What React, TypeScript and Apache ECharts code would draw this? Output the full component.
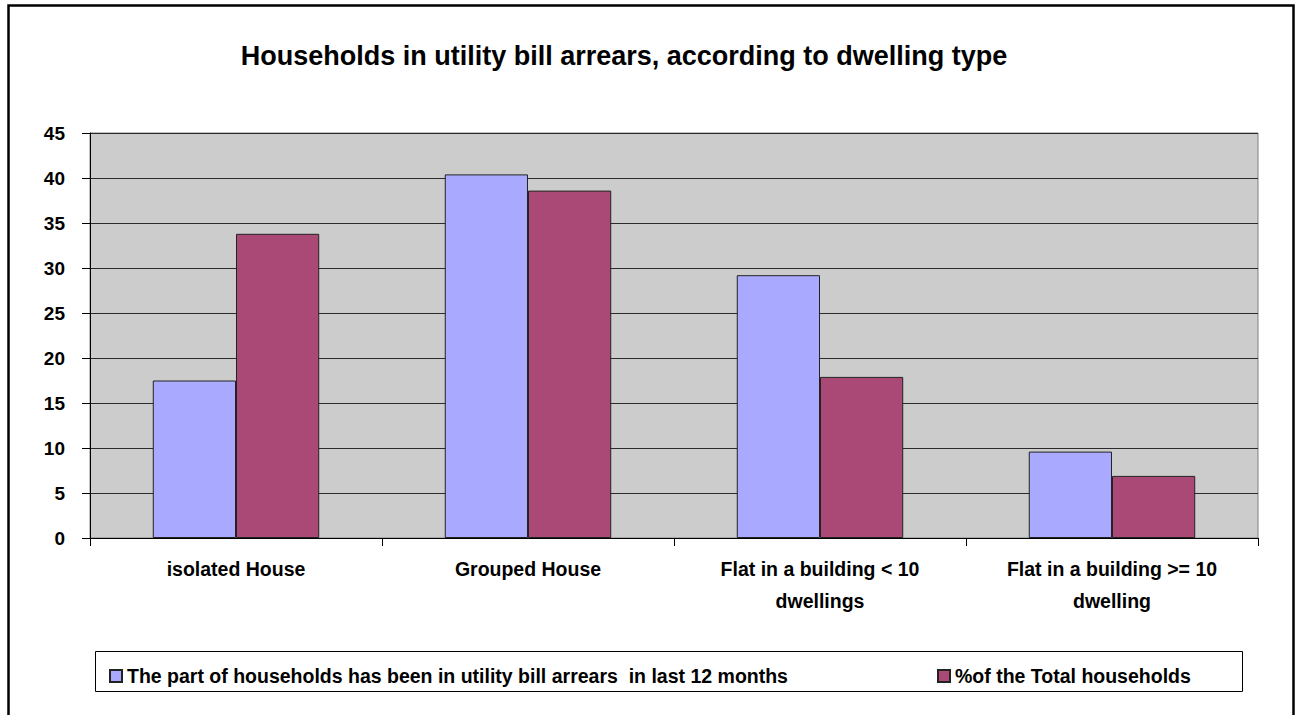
import React, { useEffect, useRef } from "react";
import * as echarts from "echarts";

const categories = [
  "isolated House",
  "Grouped House",
  "Flat in a building < 10\ndwellings",
  "Flat in a building >= 10\ndwelling",
];
const seriesNames = [
  "The part of households has been in utility bill arrears  in last 12 months",
  "%of the Total households",
];
const arrearsValues = [17.5, 40.4, 29.2, 9.6];
const totalValues = [33.8, 38.6, 17.9, 6.9];
const yTicks = { min: 0, max: 45, interval: 5 };

const FONT = "'Liberation Sans', Arial, sans-serif";

export default function App() {
  const ref = useRef<HTMLDivElement>(null);
  useEffect(() => {
    if (!ref.current) return;
    const chart = echarts.init(ref.current, undefined, { renderer: "svg" });
    const legendText = { fontSize: 19.5, fontWeight: "bold", color: "#000", fontFamily: FONT };
    chart.setOption({
      animation: false,
      backgroundColor: "#ffffff",
      textStyle: { fontFamily: FONT },
      title: {
        text: "Households in utility bill arrears, according to dwelling type",
        left: 619,
        textAlign: "center",
        top: 37,
        textStyle: { fontSize: 27, fontWeight: "bold", color: "#000", fontFamily: FONT },
      },
      grid: {
        left: 90,
        right: 41,
        top: 133,
        bottom: 177,
        show: true,
        backgroundColor: "#cccccc",
        borderColor: "#808080",
        borderWidth: 1,
        containLabel: false,
      },
      legend: [
        {
          data: [seriesNames[0]],
          left: 104,
          top: 661,
          itemWidth: 12,
          itemHeight: 12,
          icon: "rect",
          itemGap: 8,
          textStyle: legendText,
        },
        {
          data: [seriesNames[1]],
          left: 932,
          top: 661,
          itemWidth: 12,
          itemHeight: 12,
          icon: "rect",
          itemGap: 8,
          textStyle: legendText,
        },
      ],
      xAxis: {
        type: "category",
        data: categories,
        axisLine: { show: true, lineStyle: { color: "#000", width: 1 } },
        axisTick: { show: true, length: 8, alignWithLabel: false, interval: 0, lineStyle: { color: "#000" } },
        axisLabel: {
          interval: 0,
          margin: 15,
          fontSize: 19.5,
          fontWeight: "bold",
          color: "#000",
          lineHeight: 32,
          fontFamily: FONT,
        },
        splitLine: { show: false },
      },
      yAxis: {
        type: "value",
        min: yTicks.min,
        max: yTicks.max,
        interval: yTicks.interval,
        axisLine: { show: true, lineStyle: { color: "#000", width: 1 } },
        axisTick: { show: true, length: 8, lineStyle: { color: "#000" } },
        axisLabel: {
          margin: 25,
          fontSize: 19,
          fontWeight: "bold",
          color: "#000",
          fontFamily: FONT,
        },
        splitLine: { show: true, lineStyle: { color: "#2a2a2a", width: 1 } },
      },
      series: [
        {
          name: seriesNames[0],
          type: "bar",
          data: arrearsValues,
          barGap: "0%",
          barCategoryGap: "43%",
          itemStyle: { color: "#a9aaff", borderColor: "#222", borderWidth: 1 },
        },
        {
          name: seriesNames[1],
          type: "bar",
          data: totalValues,
          barGap: "0%",
          barCategoryGap: "43%",
          itemStyle: { color: "#aa4876", borderColor: "#222", borderWidth: 1 },
        },
      ],
      graphic: [
        {
          type: "rect",
          shape: { x: 8.5, y: 5.5, width: 1285, height: 740 },
          style: { fill: "none", stroke: "#000", lineWidth: 2.5 },
          silent: true,
        },
        {
          type: "rect",
          shape: { x: 95.5, y: 651.5, width: 1147, height: 40 },
          style: { fill: "none", stroke: "#000", lineWidth: 1 },
          silent: true,
          z: -1,
        },
      ],
    });
    return () => chart.dispose();
  }, []);
  return (
    <div
      ref={ref}
      style={{ position: "fixed", left: 0, top: 0, width: 1299, height: 715 }}
    />
  );
}
